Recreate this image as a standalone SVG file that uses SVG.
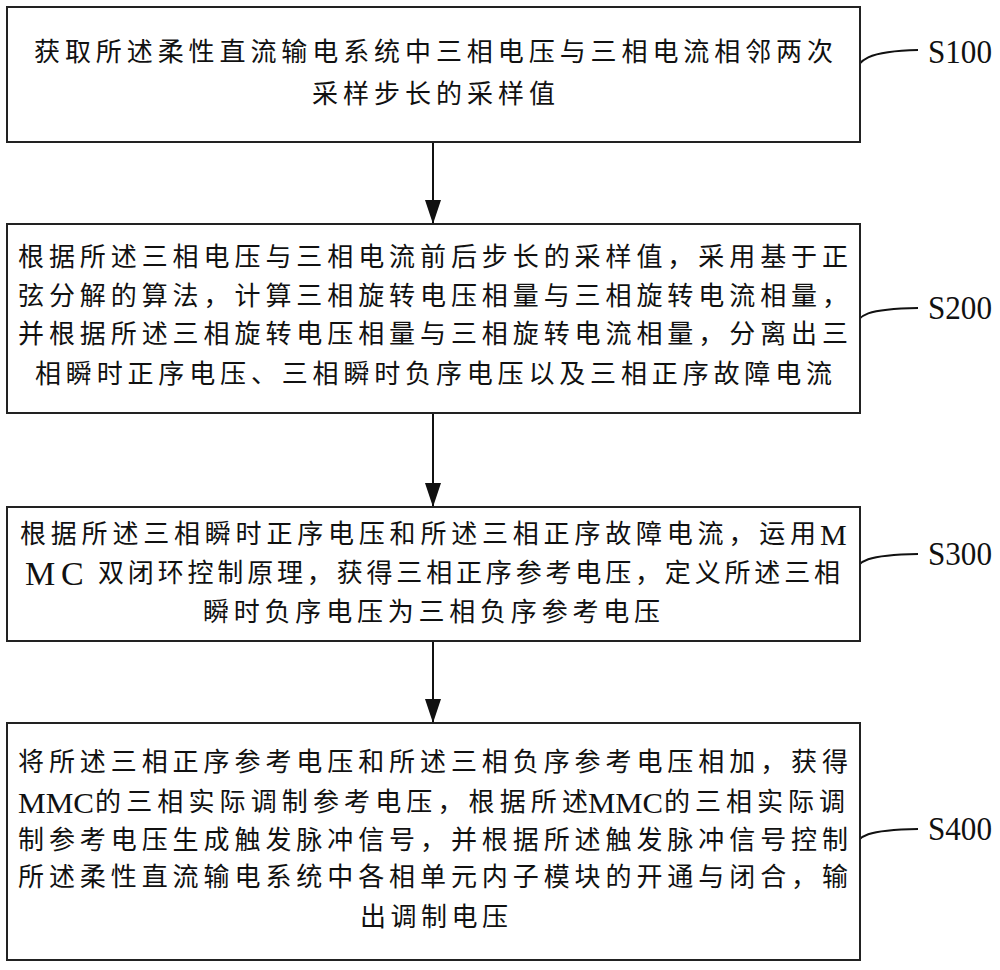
<svg xmlns="http://www.w3.org/2000/svg" width="1000" height="970" viewBox="0 0 1000 970">
<style>
.box{fill:#fff;stroke:#222;stroke-width:2}
.t{font-family:"Liberation Serif","Noto Sans CJK SC",serif;font-size:26px;fill:#111;dominant-baseline:central}
.m{font-family:"Liberation Serif",serif;font-size:30px;fill:#111;dominant-baseline:central}
.lbl{font-family:"Liberation Serif",serif;font-size:33px;fill:#111;dominant-baseline:central}
.c{fill:none;stroke:#111;stroke-width:2}
.ar{stroke:#111;stroke-width:2;fill:none}
</style>
<defs>
<marker id="arr" markerWidth="24" markerHeight="16" refX="24" refY="8" orient="auto" markerUnits="userSpaceOnUse" viewBox="0 0 24 16">
<path d="M0,0 L24,8 L0,16 Z" fill="#111"/>
</marker>
</defs>
<rect width="1000" height="970" fill="#fff"/>
<g id="connectors">
<line class="ar" x1="433" y1="142" x2="433" y2="224" marker-end="url(#arr)"/>
<line class="ar" x1="433" y1="413" x2="433" y2="507" marker-end="url(#arr)"/>
<line class="ar" x1="433" y1="641" x2="433" y2="723" marker-end="url(#arr)"/>
<path class="c" d="M853,76 C857,60 868,51 918,50"/>
<path class="c" d="M853,330 C857,314 868,309 918,308"/>
<path class="c" d="M853,575 C857,560 868,555 918,554"/>
<path class="c" d="M853,850 C857,835 868,830 918,829"/>
</g>
<g id="S100">
<rect class="box" x="7" y="7" width="853" height="135"/>
<text class="t" x="34" y="52" textLength="799" lengthAdjust="spacing">获取所述柔性直流输电系统中三相电压与三相电流相邻两次</text>
<text class="t" x="312" y="94" textLength="243" lengthAdjust="spacing">采样步长的采样值</text>
<text class="lbl" x="928" y="52" textLength="64" lengthAdjust="spacingAndGlyphs">S100</text>
</g>
<g id="S200">
<rect class="box" x="7" y="224" width="853" height="189"/>
<text class="t" x="18" y="257" textLength="830" lengthAdjust="spacing">根据所述三相电压与三相电流前后步长的采样值，采用基于正</text>
<text class="t" x="18" y="296" textLength="830" lengthAdjust="spacing">弦分解的算法，计算三相旋转电压相量与三相旋转电流相量，</text>
<text class="t" x="18" y="334" textLength="830" lengthAdjust="spacing">并根据所述三相旋转电压相量与三相旋转电流相量，分离出三</text>
<text class="t" x="35" y="374" textLength="797" lengthAdjust="spacing">相瞬时正序电压、三相瞬时负序电压以及三相正序故障电流</text>
<text class="lbl" x="928" y="308" textLength="64" lengthAdjust="spacingAndGlyphs">S200</text>
</g>
<g id="S300">
<rect class="box" x="7" y="507" width="853" height="134"/>
<text class="t" x="20" y="534" textLength="796" lengthAdjust="spacing">根据所述三相瞬时正序电压和所述三相正序故障电流，运用</text>
<text class="m" x="820" y="534">M</text>
<text class="m" x="25" y="573" style="font-size:34px">M<tspan x="61">C</tspan></text>
<text class="t" x="98" y="573" textLength="742" lengthAdjust="spacing">双闭环控制原理，获得三相正序参考电压，定义所述三相</text>
<text class="t" x="203" y="612" textLength="457" lengthAdjust="spacing">瞬时负序电压为三相负序参考电压</text>
<text class="lbl" x="928" y="554" textLength="64" lengthAdjust="spacingAndGlyphs">S300</text>
</g>
<g id="S400">
<rect class="box" x="7" y="723" width="853" height="237"/>
<text class="t" x="18" y="762" textLength="830" lengthAdjust="spacing">将所述三相正序参考电压和所述三相负序参考电压相加，获得</text>
<text class="m" x="18" y="802" textLength="76" lengthAdjust="spacingAndGlyphs">MMC</text>
<text class="t" x="95" y="802" textLength="493" lengthAdjust="spacing">的三相实际调制参考电压，根据所述</text>
<text class="m" x="588" y="802" textLength="75" lengthAdjust="spacingAndGlyphs">MMC</text>
<text class="t" x="664" y="802" textLength="181" lengthAdjust="spacing">的三相实际调</text>
<text class="t" x="18" y="840" textLength="830" lengthAdjust="spacing">制参考电压生成触发脉冲信号，并根据所述触发脉冲信号控制</text>
<text class="t" x="18" y="877" textLength="830" lengthAdjust="spacing">所述柔性直流输电系统中各相单元内子模块的开通与闭合，输</text>
<text class="t" x="360" y="917" textLength="148" lengthAdjust="spacing">出调制电压</text>
<text class="lbl" x="928" y="829" textLength="64" lengthAdjust="spacingAndGlyphs">S400</text>
</g>
</svg>
